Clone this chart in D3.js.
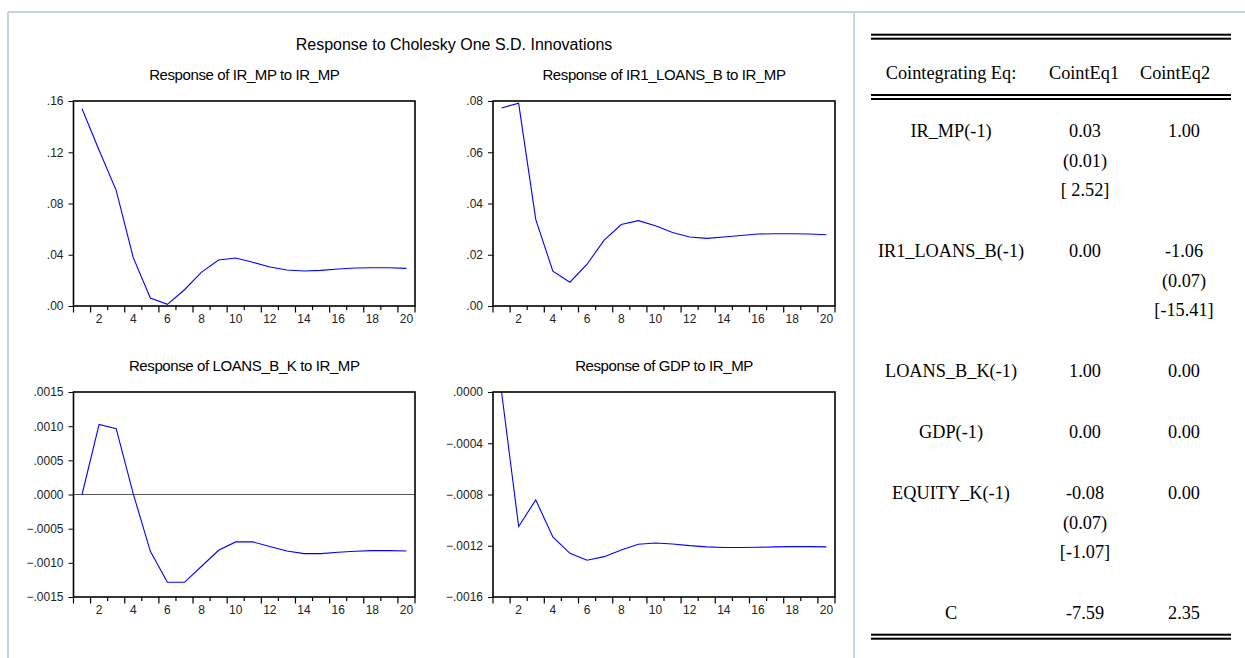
<!DOCTYPE html>
<html>
<head>
<meta charset="utf-8">
<script src="https://cdn.jsdelivr.net/npm/d3@7"></script>
<style>
  body { margin: 0; background: #fff; }
  svg { display: block; }
</style>
</head>
<body>
<div id="chart"></div>
<script>
// impulse responses, periods 1..20
var periods = [1, 2, 3, 4, 5, 6, 7, 8, 9, 10, 11, 12, 13, 14, 15, 16, 17, 18, 19, 20];
var periodLabels = [2, 4, 6, 8, 10, 12, 14, 16, 18, 20];

var respIrMp = [0.154, 0.1215, 0.0903, 0.0377, 0.0062, 0.0013, 0.0127, 0.0265, 0.0359, 0.0375,
                0.0341, 0.0304, 0.0281, 0.0273, 0.0278, 0.0289, 0.0297, 0.0299, 0.0299, 0.0294];
var respIr1Loans = [0.0773, 0.0791, 0.0338, 0.0136, 0.0093, 0.0163, 0.0257, 0.0318, 0.0333, 0.0313,
                    0.0287, 0.0269, 0.0264, 0.0269, 0.0275, 0.0281, 0.0282, 0.0282, 0.0281, 0.0278];
var respLoansBK = [0.0, 0.001026, 0.000963, 0.00001, -0.000831, -0.001285, -0.001285, -0.00105, -0.000816, -0.000694,
                   -0.000694, -0.000762, -0.000826, -0.000865, -0.000865, -0.000845, -0.000831, -0.000821, -0.000821, -0.000826];
var respGdp = [0.0, -0.00105, -0.000842, -0.001131, -0.001259, -0.001313, -0.001285, -0.001233, -0.001188, -0.001178,
               -0.001186, -0.001199, -0.001209, -0.001214, -0.001214, -0.001212, -0.001209, -0.001207, -0.001207, -0.001209];

var ticksIrMp = [0, 0.04, 0.08, 0.12, 0.16];
var ticksIr1Loans = [0, 0.02, 0.04, 0.06, 0.08];
var ticksLoansBK = [-0.0015, -0.0010, -0.0005, 0, 0.0005, 0.0010, 0.0015];
var ticksGdp = [-0.0016, -0.0012, -0.0008, -0.0004, 0];

// cointegrating equations table
var coefNames = ["IR_MP(-1)", "IR1_LOANS_B(-1)", "LOANS_B_K(-1)", "GDP(-1)", "EQUITY_K(-1)", "C"];
var cointEq1 = [["0.03", "(0.01)", "[ 2.52]"], ["0.00"], ["1.00"], ["0.00"], ["-0.08", "(0.07)", "[-1.07]"], ["-7.59"]];
var cointEq2 = [["1.00"], ["-1.06", "(0.07)", "[-15.41]"], ["0.00"], ["0.00"], ["0.00"], ["2.35"]];
var tableHeader = ["Cointegrating Eq:", "CointEq1", "CointEq2"];

var W = 1245, H = 658;
var sansFont = "'Liberation Sans', Arial, sans-serif";
var serifFont = "'Liberation Serif', 'Times New Roman', serif";

var svg = d3.select("#chart").append("svg")
  .attr("width", W)
  .attr("height", H);

// outer frame (light blue)
var frameColor = "#c6d3e6";
svg.append("line").attr("x1", 8).attr("y1", 12).attr("x2", W).attr("y2", 12)
  .attr("stroke", frameColor).attr("stroke-width", 2);
svg.append("line").attr("x1", 8).attr("y1", 12).attr("x2", 8).attr("y2", H)
  .attr("stroke", frameColor).attr("stroke-width", 2);
svg.append("line").attr("x1", 854).attr("y1", 12).attr("x2", 854).attr("y2", H)
  .attr("stroke", frameColor).attr("stroke-width", 2);

// main title
svg.append("text")
  .attr("x", 454)
  .attr("y", 50)
  .attr("text-anchor", "middle")
  .style("font-family", sansFont)
  .style("font-size", "16px")
  .text("Response to Cholesky One S.D. Innovations");

function tickFormat(digits) {
  var f = d3.format("." + digits + "f");
  return function (v) {
    if (Math.abs(v) < 1e-12) v = 0;
    return f(v).replace("0.", ".");
  };
}

function drawIrf(box, title, values, domain, ticks, digits, zeroLine) {
  var g = svg.append("g");

  var x = d3.scaleLinear().domain([0.5, 20.5]).range([box.left, box.right]);
  var y = d3.scaleLinear().domain(domain).range([box.bottom, box.top]);

  g.append("text")
    .attr("x", (box.left + box.right) / 2)
    .attr("y", box.top - 21)
    .attr("text-anchor", "middle")
    .style("font-family", sansFont)
    .style("font-size", "15px")
    .style("letter-spacing", "-0.4px")
    .text(title);

  // y axis - ticks out to the left
  var yAxis = d3.axisLeft(y)
    .tickValues(ticks)
    .tickFormat(tickFormat(digits))
    .tickSize(5)
    .tickPadding(5);
  var ya = g.append("g")
    .attr("transform", "translate(" + box.left + ",0)")
    .call(yAxis);
  ya.select(".domain").remove();
  ya.selectAll("text")
    .style("font-family", sansFont)
    .style("font-size", "12px")
    .attr("fill", "#222");

  // x axis - ticks at period boundaries, longer ones left of labelled periods
  var bounds = d3.range(0, 21).map(function (i) { return i + 0.5; });
  g.selectAll(".xtick")
    .data(bounds)
    .enter()
    .append("line")
    .attr("class", "xtick")
    .attr("x1", function (d) { return x(d); })
    .attr("x2", function (d) { return x(d); })
    .attr("y1", box.bottom)
    .attr("y2", function (d, i) { return box.bottom + ((i % 2 == 1 || i == 0 || i == 20) ? 6.5 : 4); })
    .attr("stroke", "#000")
    .attr("stroke-width", 1.2);

  g.selectAll(".xlabel")
    .data(periodLabels)
    .enter()
    .append("text")
    .attr("class", "xlabel")
    .attr("x", function (d) { return x(d); })
    .attr("y", box.bottom + 16.5)
    .attr("text-anchor", "middle")
    .style("font-family", sansFont)
    .style("font-size", "12px")
    .attr("fill", "#222")
    .text(function (d) { return d; });

  if (zeroLine) {
    g.append("line")
      .attr("x1", box.left).attr("x2", box.right)
      .attr("y1", y(0)).attr("y2", y(0))
      .attr("stroke", "#555")
      .attr("stroke-width", 1.2);
  }

  var line = d3.line()
    .x(function (d, i) { return x(periods[i]); })
    .y(function (d) { return y(d); });

  g.append("path")
    .datum(values)
    .attr("d", line)
    .attr("fill", "none")
    .attr("stroke", "#0000ff")
    .attr("stroke-width", 1.1);

  // frame
  g.append("rect")
    .attr("x", box.left)
    .attr("y", box.top)
    .attr("width", box.right - box.left)
    .attr("height", box.bottom - box.top)
    .attr("fill", "none")
    .attr("stroke", "#000")
    .attr("stroke-width", 1.6);
}

drawIrf({ left: 73.5, right: 415, top: 101, bottom: 306 }, "Response of IR_MP to IR_MP",
        respIrMp, [0, 0.16], ticksIrMp, 2, false);
drawIrf({ left: 493, right: 835, top: 101, bottom: 306 }, "Response of IR1_LOANS_B to IR_MP",
        respIr1Loans, [0, 0.08], ticksIr1Loans, 2, false);
drawIrf({ left: 73.5, right: 415, top: 392, bottom: 597 }, "Response of LOANS_B_K to IR_MP",
        respLoansBK, [-0.0015, 0.0015], ticksLoansBK, 4, true);
drawIrf({ left: 493, right: 835, top: 392, bottom: 597 }, "Response of GDP to IR_MP",
        respGdp, [-0.0016, 0], ticksGdp, 4, false);

// ---- table ----
var tbl = svg.append("g");
var ruleX1 = 871, ruleX2 = 1231;
var colX = [951, 1085, 1184];
var headX = [951, 1084, 1175];

function doubleRule(yTop) {
  [yTop, yTop + 4].forEach(function (yy) {
    tbl.append("rect")
      .attr("x", ruleX1).attr("y", yy)
      .attr("width", ruleX2 - ruleX1).attr("height", 2)
      .attr("fill", "#000");
  });
}
doubleRule(33.7);
doubleRule(94);
doubleRule(633.7);

tbl.selectAll(".head")
  .data(tableHeader)
  .enter()
  .append("text")
  .attr("class", "head")
  .attr("x", function (d, i) { return headX[i]; })
  .attr("y", 78.5)
  .attr("text-anchor", "middle")
  .style("font-family", serifFont)
  .style("font-size", "18.3px")
  .text(function (d) { return d; });

var lineH = 29.5, rowGap = 61;
var rowY = [];
var yy = 137;
coefNames.forEach(function (n, r) {
  rowY.push(yy);
  var nLines = Math.max(cointEq1[r].length, cointEq2[r].length);
  yy += (nLines - 1) * lineH + rowGap;
});

coefNames.forEach(function (name, r) {
  var cells = [[name], cointEq1[r], cointEq2[r]];
  cells.forEach(function (lines, c) {
    lines.forEach(function (s, k) {
      tbl.append("text")
        .attr("x", colX[c])
        .attr("y", rowY[r] + k * lineH)
        .attr("text-anchor", "middle")
        .style("font-family", serifFont)
        .style("font-size", "18.3px")
        .text(s);
    });
  });
});
</script>
</body>
</html>
